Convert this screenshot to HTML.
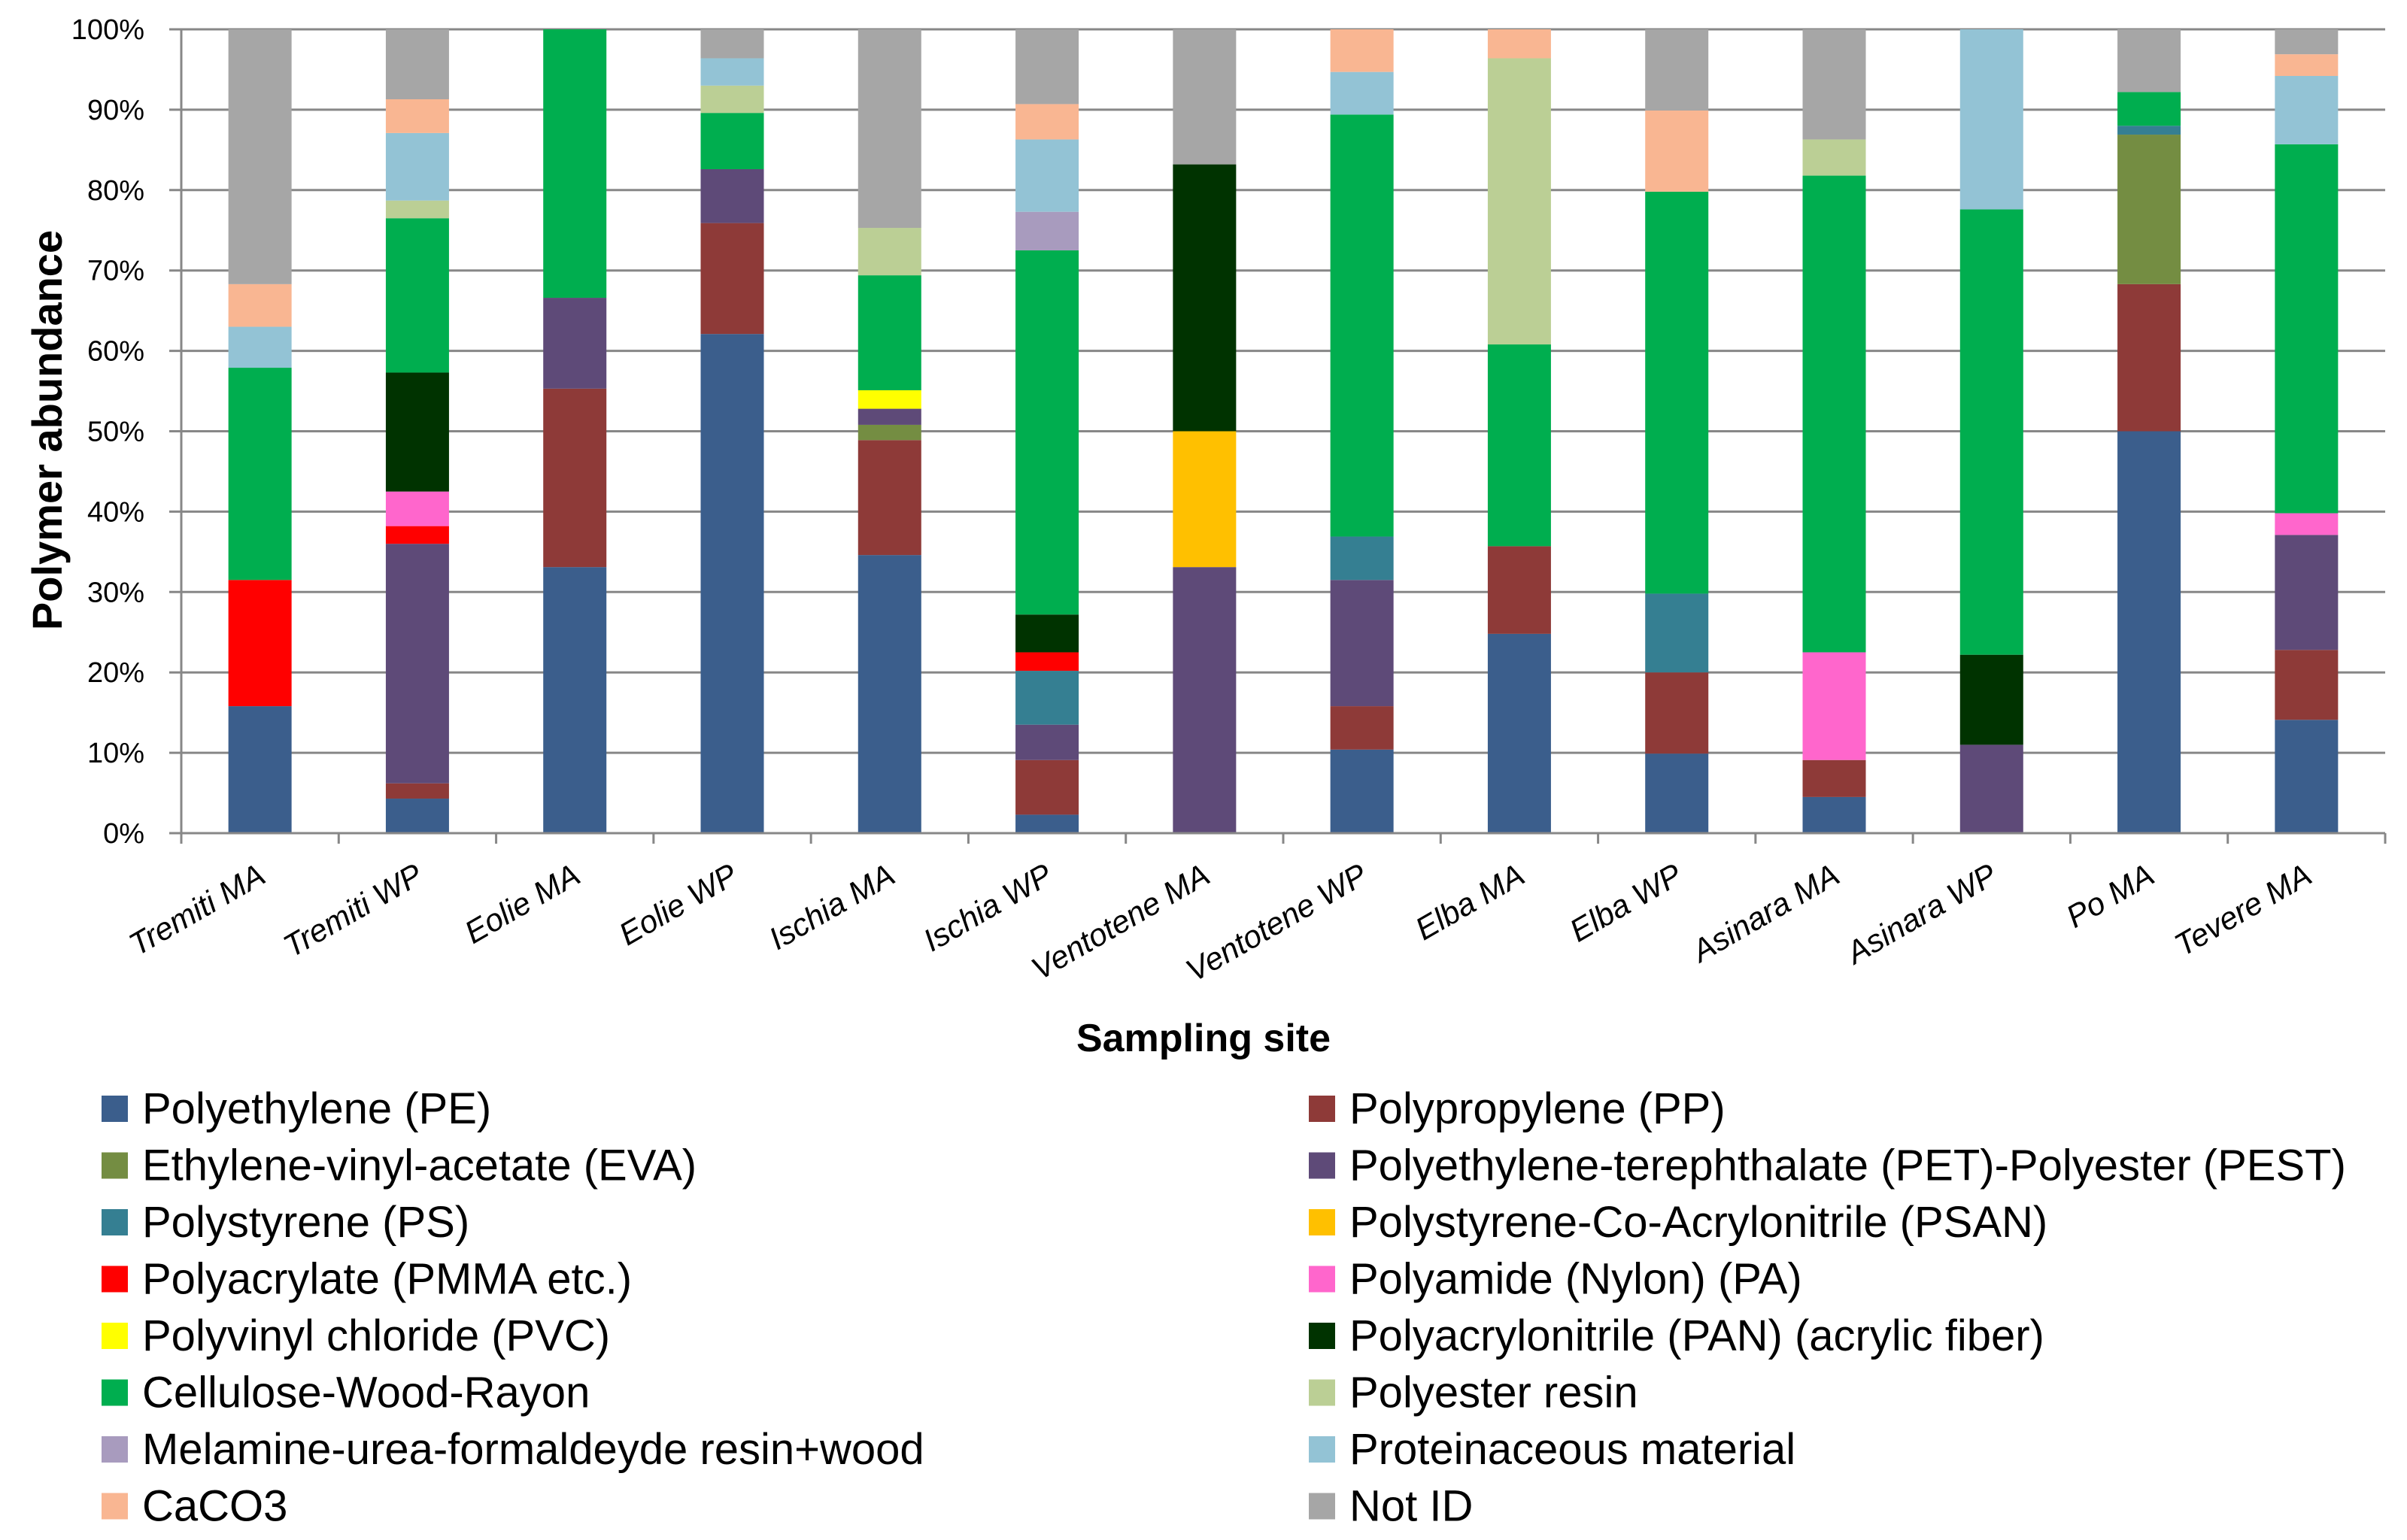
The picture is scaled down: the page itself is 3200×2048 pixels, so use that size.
<!DOCTYPE html>
<html><head><meta charset="utf-8">
<style>
html,body{margin:0;padding:0;background:#fff;}
svg{display:block;font-family:"Liberation Sans",sans-serif;}
</style></head>
<body>
<svg id="chart" width="3200" height="2048" viewBox="0 0 3200 2048" xmlns="http://www.w3.org/2000/svg">
<g id="grid"></g>
<g id="bars"></g>
<g id="axes"></g>
<text x="0" y="0" transform="translate(82,572) rotate(-90)" text-anchor="middle" font-size="56" font-weight="bold">Polymer abundance</text>
<text x="1600" y="1398" text-anchor="middle" font-size="52" font-weight="bold">Sampling site</text>
<g id="legend"></g>
</svg>
<script>
const categories = ["Tremiti MA","Tremiti WP","Eolie MA","Eolie WP","Ischia MA","Ischia WP","Ventotene MA","Ventotene WP","Elba MA","Elba WP","Asinara MA","Asinara WP","Po MA","Tevere MA"];
const seriesNames = ["Polyethylene (PE)","Polypropylene (PP)","Ethylene-vinyl-acetate (EVA)","Polyethylene-terephthalate (PET)-Polyester (PEST)","Polystyrene (PS)","Polystyrene-Co-Acrylonitrile (PSAN)","Polyacrylate (PMMA etc.)","Polyamide (Nylon) (PA)","Polyvinyl chloride (PVC)","Polyacrylonitrile (PAN) (acrylic fiber)","Cellulose-Wood-Rayon","Polyester resin","Melamine-urea-formaldeyde resin+wood","Proteinaceous material","CaCO3","Not ID"];
const seriesColors = ["#3B5E8C","#8E3A38","#748D42","#5E4A78","#357F92","#FFC000","#FF0000","#FF66CC","#FFFF00","#003300","#00AE4F","#BBCF95","#A89BBE","#93C3D5","#F9B692","#A6A6A6"];
const PE   = [15.8,4.3,33.1,62.1,34.6,2.3,0,10.4,24.8,9.9,4.5,0,50,14.1];
const PP   = [0,1.9,22.2,13.8,14.3,6.8,0,5.4,10.9,10.1,4.6,0,18.3,8.7];
const EVA  = [0,0,0,0,1.9,0,0,0,0,0,0,0,18.6,0];
const PET  = [0,29.8,11.3,6.7,2.0,4.4,33.1,15.7,0,0,0,11,0,14.3];
const PS   = [0,0,0,0,0,6.7,0,5.4,0,9.8,0,0,1.1,0];
const PSAN = [0,0,0,0,0,0,16.9,0,0,0,0,0,0,0];
const PMMA = [15.7,2.2,0,0,0,2.3,0,0,0,0,0,0,0,0];
const PA   = [0,4.3,0,0,0,0,0,0,0,0,13.4,0,0,2.7];
const PVC  = [0,0,0,0,2.3,0,0,0,0,0,0,0,0,0];
const PAN  = [0,14.8,0,0,0,4.7,33.2,0,0,0,0,11.2,0,0];
const CELL = [26.4,19.2,33.4,7.0,14.3,45.3,0,52.5,25.1,50,59.3,55.4,4.2,45.9];
const PR   = [0,2.2,0,3.4,5.9,0,0,0,35.6,0,4.5,0,0,0];
const MUF  = [0,0,0,0,0,4.8,0,0,0,0,0,0,0,0];
const PROT = [5.1,8.4,0,3.4,0,9.0,0,5.3,0,0,0,22.4,0,8.5];
const CACO3= [5.3,4.2,0,0,0,4.4,0,5.3,3.6,10.1,0,0,0,2.7];
const NOTID= [31.7,8.7,0,3.6,24.7,9.3,16.8,5.3,0,10.1,13.7,0,7.8,3.1];
const yTicks = [0,10,20,30,40,50,60,70,80,90,100];
const seriesValues = [PE,PP,EVA,PET,PS,PSAN,PMMA,PA,PVC,PAN,CELL,PR,MUF,PROT,CACO3,NOTID];

const NS="http://www.w3.org/2000/svg";
const X0=241, X1=3171, Y0=1108, Y1=39;
const catW=(X1-X0)/categories.length, barW=84;
function y(v){return Y0-(v/100)*(Y0-Y1);}
function xc(i){return X0+catW*(i+0.5);}
function mk(tag,attrs,parent){const e=document.createElementNS(NS,tag);for(const k in attrs)e.setAttribute(k,attrs[k]);parent.appendChild(e);return e;}

const grid=document.getElementById('grid');
yTicks.forEach(t=>{
  const l=mk('line',{x1:X0-16,x2:X1,y1:y(t),y2:y(t),stroke:'#878787','stroke-width':3},grid);
  
  
  const tx=mk('text',{x:192,y:y(t)+13,'text-anchor':'end','font-size':38,fill:'#000'},grid);
  tx.textContent=t+'%';
  
  
});

const bars=document.getElementById('bars');
categories.forEach((c,i)=>{
  let acc=0;
  seriesValues.forEach((arr,s)=>{
    const v=arr[i]; if(!v) return;
    let top=acc+v; if(top>100) top=100;
    const r=mk('rect',{x:xc(i)-barW/2,y:y(top),width:barW,height:y(acc)-y(top),fill:seriesColors[s]},bars);
    
    
    acc=top;
  });
});

const axes=document.getElementById('axes');
mk('line',{x1:X0,x2:X0,y1:Y1,y2:Y0,stroke:'#878787','stroke-width':3},axes);
mk('line',{x1:X0-16,x2:X1,y1:Y0,y2:Y0,stroke:'#878787','stroke-width':3},axes);
for(let i=0;i<=categories.length;i++){
  mk('line',{x1:X0+catW*i,x2:X0+catW*i,y1:Y0,y2:Y0+14,stroke:'#878787','stroke-width':3},axes);
}
categories.forEach((c,i)=>{
  const t=mk('text',{x:0,y:0,'text-anchor':'end','font-size':42,'font-style':'italic',transform:`translate(${xc(i)+10},${1172}) rotate(-30)`},axes);
  t.textContent=c;
  
  
});

const legend=document.getElementById('legend');
const leftOrder=[0,2,4,6,8,10,12,14], rightOrder=[1,3,5,7,9,11,13,15];
function legendCol(order,sx,tx){
  order.forEach((s,k)=>{
    const cy=1474+k*75.5;
    const g=mk('g',{},legend);
    
    
    mk('rect',{x:sx,y:cy-17,width:35,height:35,fill:seriesColors[s]},g);
    const t=mk('text',{x:tx,y:cy+20,'font-size':58,fill:'#000'},g);
    t.textContent=seriesNames[s];
  });
}
legendCol(leftOrder,135,189);
legendCol(rightOrder,1740,1794);
</script>
</body></html>
